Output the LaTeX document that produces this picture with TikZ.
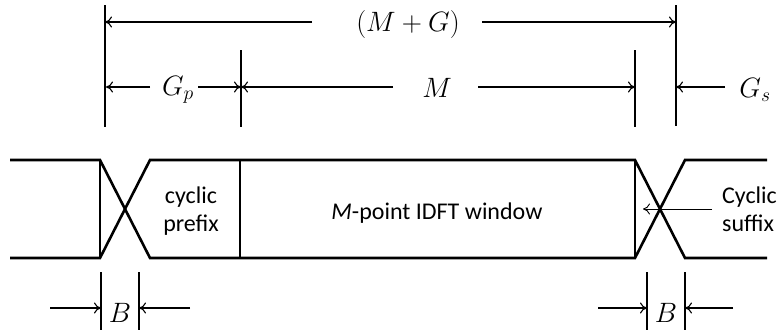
\RequirePackage{fix-cm}
\documentclass[tikz,border=0pt]{standalone}
\usepackage{fontspec}
\newfontfamily\carlitofont{Carlito}
\usetikzlibrary{arrows.meta}
\begin{document}
\begin{tikzpicture}[x=1pt,y=-1pt,
  wave/.style={line width=2.6pt,line join=miter},
  tick/.style={line width=1.6pt},
  dim/.style={line width=1.1pt,-{To[length=7pt,width=11pt]}},
  mathlbl/.style={inner sep=0pt,font=\fontsize{28}{34}\selectfont},
  txt/.style={inner sep=0pt,font=\carlitofont\fontsize{24}{28}\selectfont}]
\useasboundingbox (0,0) rectangle (780,335);
% dimension ticks
\coordinate (vA1) at (105,5);   \coordinate (vA2) at (105,127);
\coordinate (vB1) at (241,50);  \coordinate (vB2) at (241,127);
\coordinate (vC1) at (635,50);  \coordinate (vC2) at (635,127);
\coordinate (vD1) at (676,5);   \coordinate (vD2) at (676,126);
\draw[tick] (vA1) -- (vA2);
\draw[tick] (vB1) -- (vB2);
\draw[tick] (vC1) -- (vC2);
\draw[tick] (vD1) -- (vD2);
% top row
\node[mathlbl] (MG) at (408,24) {$(M+G)$};
\coordinate (t1) at (105,22); \coordinate (t2) at (676,22);
\coordinate (t1s) at (312,22); \coordinate (t2s) at (482,22);
\draw[dim] (t1s) -- (t1);
\draw[dim] (t2s) -- (t2);
% second row
\node[mathlbl] (Gp) at (178,90) {$G_p$};
\node[mathlbl] (Mm) at (437,88) {$M$};
\node[mathlbl] (Gs) at (755,90) {$G_s$};
\coordinate (a1) at (106,87); \coordinate (a1s) at (150,87);
\coordinate (a2) at (241,87); \coordinate (a2s) at (198,87);
\coordinate (a3s) at (393,87);
\coordinate (a4) at (635,87); \coordinate (a4s) at (478,87);
\coordinate (a5) at (676,87); \coordinate (a5s) at (725,87);
\draw[dim] (a1s) -- (a1);
\draw[dim] (a2s) -- (a2);
\draw[dim] (a3s) -- (a2);
\draw[dim] (a4s) -- (a4);
\draw[dim] (a5s) -- (a5);
% waveform
\coordinate (L0t) at (10,160);  \coordinate (L0b) at (10,258);
\coordinate (L1t) at (100,160); \coordinate (L1b) at (100,258);
\coordinate (L2t) at (150,160); \coordinate (L2b) at (150,258);
\coordinate (Dt) at (240,160);  \coordinate (Db) at (240,258);
\coordinate (R1t) at (635,160); \coordinate (R1b) at (635,258);
\coordinate (R2t) at (685,160); \coordinate (R2b) at (685,258);
\coordinate (R3t) at (767,160); \coordinate (R3b) at (767,258);
\draw[wave] (L0t) -- (L1t) -- (L2b) -- (R1b) -- (R2t) -- (R3t);
\draw[wave] (L0b) -- (L1b) -- (L2t) -- (R1t) -- (R2b) -- (R3b);
\draw[wave] (L1t) -- (L1b);
\draw[wave] (Dt) -- (Db);
\draw[wave] (R1t) -- (R1b);
% texts
\node[txt,anchor=base] (cy) at (191,203) {cyclic};
\node[txt,anchor=base] (pf) at (191,231) {prefix};
\node[txt,anchor=base] (win) at (437,219) {\textit{M}-point IDFT window};
\node[txt,anchor=base west] (Cy) at (722,203) {Cyclic};
\node[txt,anchor=base west] (sf) at (722,231) {suffix};
\coordinate (sa) at (712,209); \coordinate (se) at (643,209);
\draw[dim,line width=0.9pt] (sa) -- (se);
% B markers
\coordinate (b1a) at (101,272); \coordinate (b1b) at (101,330);
\coordinate (b2a) at (139,272); \coordinate (b2b) at (139,330);
\coordinate (b3a) at (647,272); \coordinate (b3b) at (647,330);
\coordinate (b4a) at (685,272); \coordinate (b4b) at (685,330);
\draw[tick] (b1a) -- (b1b);
\draw[tick] (b2a) -- (b2b);
\draw[tick] (b3a) -- (b3b);
\draw[tick] (b4a) -- (b4b);
\node[mathlbl] (B1) at (120,313) {$B$};
\node[mathlbl] (B2) at (666,313) {$B$};
\coordinate (c1) at (101,308); \coordinate (c1s) at (50,308);
\coordinate (c2) at (139,308); \coordinate (c2s) at (190,308);
\coordinate (c3) at (647,308); \coordinate (c3s) at (598,308);
\coordinate (c4) at (685,308); \coordinate (c4s) at (733,308);
\draw[dim] (c1s) -- (c1);
\draw[dim] (c2s) -- (c2);
\draw[dim] (c3s) -- (c3);
\draw[dim] (c4s) -- (c4);
\end{tikzpicture}
\end{document}
